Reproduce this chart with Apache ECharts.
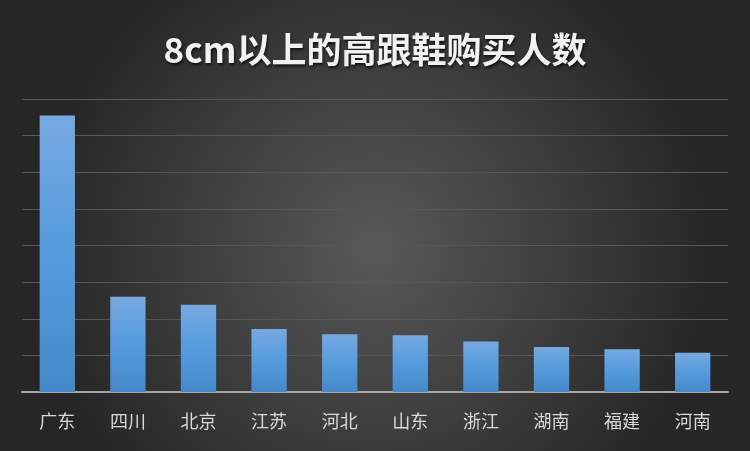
<!DOCTYPE html>
<html>
<head>
<meta charset="utf-8">
<script src="https://cdn.jsdelivr.net/npm/echarts@6/dist/echarts.min.js"></script>
<style>
  html, body { margin: 0; padding: 0; }
  #main { width: 750px; height: 451px; }
</style>
</head>
<body>
<div id="main"></div>
<script>
var provinces = ["广东", "四川", "北京", "江苏", "河北", "山东", "浙江", "湖南", "福建", "河南"];
var buyers = [7.55, 2.6, 2.38, 1.72, 1.58, 1.55, 1.38, 1.23, 1.17, 1.07];

var chartDom = document.getElementById("main");
var myChart = echarts.init(chartDom);
var option;

option = {
  backgroundColor: new echarts.graphic.RadialGradient(0.5, 0.55, 0.75, [
    { offset: 0, color: "#595959" },
    { offset: 1, color: "#262626" }
  ]),
  title: {
    text: "8cm以上的高跟鞋购买人数",
    left: "center",
    top: 27,
    textStyle: {
      color: "#f2f2f2",
      fontSize: 35,
      fontWeight: "bold",
      fontFamily: "Noto Sans CJK SC",
      textShadowColor: "rgba(0,0,0,0.7)",
      textShadowBlur: 3,
      textShadowOffsetX: 1,
      textShadowOffsetY: 2
    }
  },
  grid: { left: 22, right: 22, top: 99, bottom: 59 },
  xAxis: {
    type: "category",
    data: provinces,
    axisLine: { lineStyle: { color: "#a6a6a6", width: 2 } },
    axisTick: { show: false },
    axisLabel: {
      color: "#d9d9d9",
      fontSize: 18,
      fontFamily: "Noto Sans CJK SC",
      margin: 20
    }
  },
  yAxis: {
    type: "value",
    min: 0,
    max: 8,
    interval: 1,
    axisLabel: { show: false },
    axisLine: { show: false },
    axisTick: { show: false },
    splitLine: { lineStyle: { color: "#575757", width: 1 } }
  },
  series: [{
    type: "bar",
    data: buyers,
    barWidth: "50%",
    itemStyle: {
      color: new echarts.graphic.LinearGradient(0, 0, 0, 1, [
        { offset: 0, color: "#76a9e0" },
        { offset: 0.5, color: "#559bdd" },
        { offset: 1, color: "#4689cb" }
      ]),
      shadowColor: "rgba(0,0,0,0.55)",
      shadowBlur: 8,
      shadowOffsetX: 2,
      shadowOffsetY: 1
    }
  }]
};

option && myChart.setOption(option);
</script>
</body>
</html>
